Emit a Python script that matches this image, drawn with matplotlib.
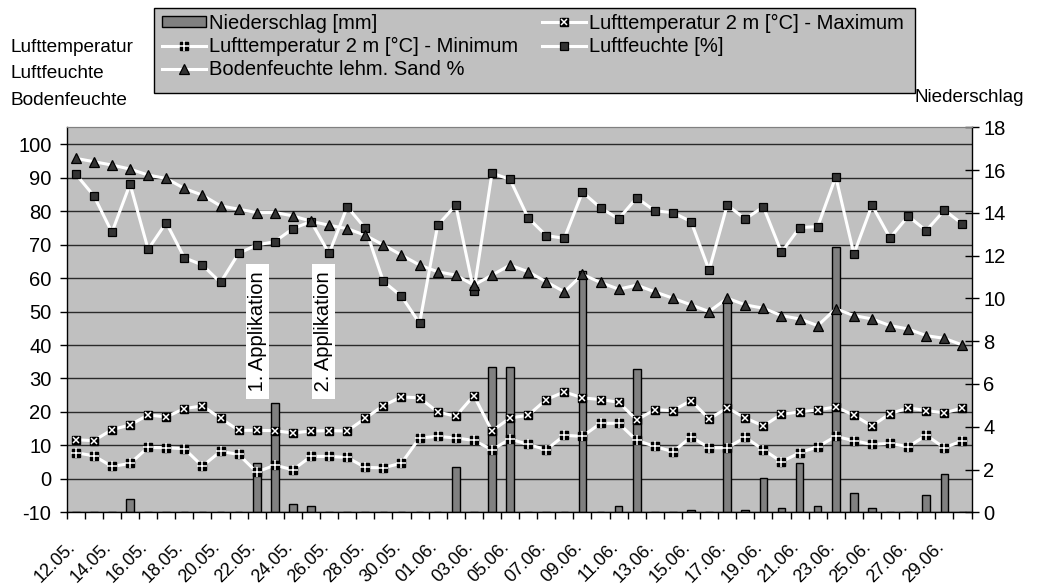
import numpy as np
import matplotlib
matplotlib.use("Agg")
import matplotlib.pyplot as plt
from matplotlib.patches import Rectangle
from matplotlib.lines import Line2D
from matplotlib.legend_handler import HandlerTuple
from matplotlib.transforms import blended_transform_factory

plt.rcParams['font.family'] = ['Liberation Sans', 'DejaVu Sans']
plt.rcParams['font.size'] = 13
plt.rcParams['axes.unicode_minus'] = False

# Tage 12.05. - 30.06.
tage = [f"{d:02d}.05." for d in range(12, 32)] + [f"{d:02d}.06." for d in range(1, 31)]

niederschlag = [0, 0, 0, 0.6, 0, 0, 0, 0, 0, 0,
                2.3, 5.1, 0.4, 0.3, 0, 0, 0, 0, 0, 0,
                0, 2.1, 0, 6.8, 6.8, 0, 0, 0, 11.3, 0,
                0.3, 6.7, 0, 0, 0.1, 0, 9.9, 0.1, 1.6, 0.2,
                2.3, 0.3, 12.4, 0.9, 0.2, 0, 0, 0.8, 1.8, 0]

temp_max = [11.7, 11.4, 14.7, 16.1, 19.1, 18.5, 21.0, 21.8, 18.1, 14.5,
            14.5, 14.4, 13.7, 14.3, 14.4, 14.3, 18.1, 21.9, 24.5, 24.2,
            20.0, 18.7, 24.9, 14.3, 18.2, 19.0, 23.7, 26.0, 24.2, 23.7,
            22.9, 17.6, 20.7, 20.4, 23.4, 17.9, 21.2, 18.2, 15.8, 19.3,
            20.0, 20.6, 21.5, 19.0, 15.8, 19.5, 21.2, 20.4, 19.7, 21.2]

temp_min = [7.8, 6.9, 3.7, 4.6, 9.4, 9.3, 9.0, 3.8, 8.2, 7.3,
            2.0, 4.1, 2.7, 6.7, 6.7, 6.4, 3.4, 3.3, 4.7, 12.2,
            12.7, 12.2, 11.5, 8.7, 11.9, 10.3, 8.7, 13.0, 12.7, 16.6,
            16.6, 11.5, 9.7, 8.1, 12.5, 9.3, 9.3, 12.4, 8.7, 5.1,
            7.8, 9.6, 12.7, 11.4, 10.3, 10.6, 9.6, 13.0, 9.3, 11.4]

luftfeuchte = [91.1, 84.6, 73.7, 88.1, 68.6, 76.6, 66.1, 63.9, 58.7, 67.4,
               69.9, 70.9, 74.8, 76.9, 67.4, 81.3, 74.9, 59.0, 54.6, 46.5,
               75.8, 81.8, 56.1, 91.4, 89.5, 78.0, 72.7, 71.9, 85.7, 81.0,
               77.7, 84.0, 80.1, 79.6, 76.9, 62.4, 81.8, 77.7, 81.3, 67.7,
               75.1, 75.4, 90.3, 67.2, 81.8, 72.0, 78.5, 74.2, 80.3, 76.2]

bodenfeuchte = [95.8, 94.8, 93.8, 92.6, 90.8, 89.8, 86.8, 84.8, 81.6, 80.6,
                79.6, 79.6, 78.6, 77.0, 75.8, 74.8, 72.8, 69.9, 66.9, 63.9,
                61.9, 60.9, 57.9, 60.9, 63.9, 61.9, 58.9, 55.9, 61.1, 58.7,
                56.7, 57.9, 55.9, 54.0, 52.0, 50.0, 54.0, 52.0, 51.0, 48.8,
                47.8, 45.8, 50.8, 48.8, 47.8, 45.8, 44.8, 42.8, 42.0, 40.0]

# Applikationstermine (Position auf der Tagesachse)
applikationen = [("1. Applikation", 10.05), ("2. Applikation", 13.7)]

W, H = 1042, 585
fig = plt.figure(figsize=(W / 100, H / 100), dpi=100)
fig.patch.set_facecolor('white')

left_px, right_px, top_px, bot_px = 66.7, 971.5, 127.3, 512.3
ax = fig.add_axes([left_px / W, (H - bot_px) / H,
                   (right_px - left_px) / W, (bot_px - top_px) / H])
ax2 = ax.twinx()
ax.set_zorder(ax2.get_zorder() + 1)
ax.patch.set_visible(False)
ax2.patch.set_visible(True)
ax2.patch.set_facecolor('#C0C0C0')

x = np.arange(len(tage))
ax.set_xlim(-0.5, len(tage) - 0.5)
ax.set_ylim(-10, 105.08)
ax2.set_ylim(0, 18)

# Gitterlinien der linken Achse, hinter den Balken
grid_tr = blended_transform_factory(ax2.transAxes, ax.transData)
for v in range(-10, 101, 10):
    ax2.plot([0, 1], [v, v], transform=grid_tr, color='#2a2a2a', lw=1.0,
             zorder=0.5, solid_capstyle='butt')

# Niederschlag als Balken (rechte Achse)
ax2.bar(x, niederschlag, width=0.42, color='#808080', edgecolor='black',
        linewidth=1.0, zorder=2)

LW = 2.2
# Lufttemperatur Maximum
ax.plot(x, temp_max, color='white', lw=LW, zorder=3)
ax.plot(x, temp_max, ls='none', marker='s', ms=6.2, mfc='black', mec='black', zorder=4)
ax.plot(x, temp_max, ls='none', marker='x', ms=4.6, mec='white', mew=1.1, zorder=5)
# Lufttemperatur Minimum
ax.plot(x, temp_min, color='white', lw=LW, zorder=3)
ax.plot(x, temp_min, ls='none', marker='s', ms=6.2, mfc='black', mec='black', zorder=4)
ax.plot(x, temp_min, ls='none', marker='+', ms=6.6, mec='white', mew=1.1, zorder=5)
# Luftfeuchte
ax.plot(x, luftfeuchte, color='white', lw=LW, zorder=3)
ax.plot(x, luftfeuchte, ls='none', marker='s', ms=5.6, mfc='#333333', mec='black',
        mew=0.9, zorder=4)
# Bodenfeuchte
ax.plot(x, bodenfeuchte, color='white', lw=LW, zorder=3)
ax.plot(x, bodenfeuchte, ls='none', marker='^', ms=6.5, mfc='#333333', mec='black',
        mew=0.9, zorder=4)

# Applikationsmarken
for txt, pos in applikationen:
    ax.text(pos, 44.0, " " + txt + " ", rotation=90, ha='center', va='center',
            fontsize=14.5, zorder=6,
            bbox=dict(boxstyle='square,pad=0.1', fc='white', ec='none'))

# Achsen / Ticks
for s in ('left', 'bottom'):
    ax.spines[s].set_color('black')
    ax.spines[s].set_linewidth(1.0)
ax.spines['right'].set_visible(False)
ax.spines['top'].set_color('#808080')
ax2.spines['right'].set_color('black')
ax2.spines['right'].set_linewidth(1.0)
ax2.spines['top'].set_color('#808080')
for s in ('left', 'bottom'):
    ax2.spines[s].set_visible(False)

ax.set_yticks(range(-10, 101, 10))
ax.tick_params(axis='y', direction='out', length=5, width=1, pad=6, labelsize=14.5)
ax2.set_yticks(range(0, 19, 2))
ax2.tick_params(axis='y', direction='inout', length=10, width=1, pad=3.5, labelsize=14.5)

ax.set_xticks(x[::2])
ax.set_xticklabels(tage[::2])
ax.set_xticks(np.arange(-0.5, len(tage), 1), minor=True)
ax.tick_params(axis='x', which='minor', direction='out', length=5, width=1)
ax.tick_params(axis='x', which='major', length=0, pad=25.5, labelsize=13)
for lab in ax.get_xticklabels():
    lab.set_rotation(45)
    lab.set_ha('right')
    lab.set_va('baseline')
    lab.set_rotation_mode('anchor')

# Achsentitel
for txt, ypx in (("Lufttemperatur", 47), ("Luftfeuchte", 73.5), ("Bodenfeuchte", 100)):
    fig.text(10 / W, 1 - ypx / H, txt, ha='left', va='center', fontsize=13.7)
fig.text(915 / W, 1 - 97 / H, "Niederschlag", ha='left', va='center', fontsize=13.6)

# Legende
fig.add_artist(Rectangle((154 / W, 1 - 93 / H), 761 / W, 85 / H,
                         transform=fig.transFigure, fc='#C0C0C0', ec='black',
                         lw=1.0, zorder=1))
h_nied = Rectangle((0, 0), 1, 1, fc='#808080', ec='black', lw=1.0)
h_min = (Line2D([], [], color='white', lw=LW, marker='s', ms=6.2, mfc='black', mec='black'),
         Line2D([], [], ls='none', marker='+', ms=6.6, mec='white', mew=1.1))
h_boden = Line2D([], [], color='white', lw=LW, marker='^', ms=6.5, mfc='#333333',
                 mec='black', mew=0.9)
h_max = (Line2D([], [], color='white', lw=LW, marker='s', ms=6.2, mfc='black', mec='black'),
         Line2D([], [], ls='none', marker='x', ms=4.6, mec='white', mew=1.1))
h_feuchte = Line2D([], [], color='white', lw=LW, marker='s', ms=5.6, mfc='#333333',
                   mec='black', mew=0.9)
leg = fig.legend([h_nied, h_min, h_boden, h_max, h_feuchte],
                 ["Niederschlag [mm]", "Lufttemperatur 2 m [°C] - Minimum",
                  "Bodenfeuchte lehm. Sand %", "Lufttemperatur 2 m [°C] - Maximum",
                  "Luftfeuchte [%]"],
                 handler_map={tuple: HandlerTuple(ndivide=1)},
                 ncol=2, loc='upper left', bbox_to_anchor=(162 / W, 1 - 13.5 / H),
                 frameon=False, borderpad=0, borderaxespad=0, fontsize=14.5,
                 handlelength=2.2, handleheight=0.5, handletextpad=0.12,
                 columnspacing=1.2, labelspacing=0.22, numpoints=1)
leg.set_zorder(2)

fig.savefig("out.png", dpi=100)
